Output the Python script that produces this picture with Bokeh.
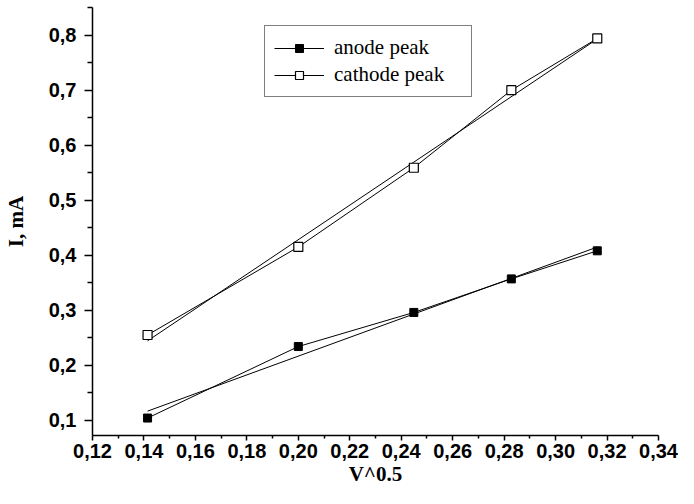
import numpy as np
from bokeh.plotting import figure
from bokeh.models import (Range1d, FixedTicker, CustomJSTickFormatter, Legend,
                          LegendItem)
from bokeh.embed import file_html
from bokeh.resources import INLINE

# ---- data ----
sqrt_v = [0.1414, 0.2000, 0.2449, 0.2828, 0.3162]
anode_peak = [0.104, 0.234, 0.296, 0.357, 0.408]
cathode_peak = [0.255, 0.415, 0.559, 0.700, 0.794]

x_ticks = [0.12, 0.14, 0.16, 0.18, 0.20, 0.22, 0.24, 0.26, 0.28, 0.30, 0.32, 0.34]
y_ticks = [0.1, 0.2, 0.3, 0.4, 0.5, 0.6, 0.7, 0.8]
x_minor = [0.13, 0.15, 0.17, 0.19, 0.21, 0.23, 0.25, 0.27, 0.29, 0.31, 0.33]
y_minor = [0.15, 0.25, 0.35, 0.45, 0.55, 0.65, 0.75, 0.85]

x_title = "V^0.5"
y_title = "I, mA"
series_names = ["anode peak", "cathode peak"]

# linear fits of the measured points
fit_x = [min(sqrt_v), max(sqrt_v)]
a_fit = np.polyfit(sqrt_v, anode_peak, 1)
c_fit = np.polyfit(sqrt_v, cathode_peak, 1)
anode_fit = list(np.polyval(a_fit, fit_x))
cathode_fit = list(np.polyval(c_fit, fit_x))

p = figure(width=678, height=488, output_backend="svg", toolbar_location=None,
           x_range=Range1d(0.12, 0.34), y_range=Range1d(0.0723, 0.8503),
           min_border_left=86, min_border_right=20, min_border_top=7,
           min_border_bottom=40)
p.grid.visible = False
p.outline_line_color = None
p.background_fill_color = "white"
p.border_fill_color = "white"

# axes
p.xaxis.ticker = FixedTicker(ticks=x_ticks, minor_ticks=x_minor)
p.yaxis.ticker = FixedTicker(ticks=y_ticks, minor_ticks=y_minor)
p.xaxis.formatter = CustomJSTickFormatter(code="return tick.toFixed(2).replace('.', ',');")
p.yaxis.formatter = CustomJSTickFormatter(code="return tick.toFixed(1).replace('.', ',');")
for ax in (p.xaxis[0], p.yaxis[0]):
    ax.axis_line_color = "black"
    ax.axis_line_width = 1.5
    ax.major_tick_line_color = "black"
    ax.major_tick_line_width = 1.5
    ax.minor_tick_line_color = "black"
    ax.minor_tick_line_width = 1.5
    ax.major_tick_in = 0
    ax.minor_tick_in = 0
    ax.major_label_text_font = "Liberation Sans"
    ax.major_label_text_font_style = "bold"
    ax.major_label_text_font_size = "20px"
    ax.major_label_text_color = "black"
    ax.axis_label_text_font = "Liberation Serif"
    ax.axis_label_text_font_style = "bold"
    ax.axis_label_text_color = "black"
p.xaxis.major_tick_out = 5
p.xaxis.minor_tick_out = 3
p.xaxis.major_label_standoff = 3
p.yaxis.major_tick_out = 8
p.yaxis.minor_tick_out = 5
p.yaxis.major_label_standoff = 8

p.yaxis.axis_label = y_title
p.yaxis.axis_label_text_font_size = "21px"
p.yaxis.axis_label_standoff = 18

p.xaxis.axis_label = x_title
p.xaxis.axis_label_text_font_size = "21px"
p.xaxis.axis_label_standoff = 1

# fit lines
p.line(fit_x, anode_fit, line_color="black", line_width=1)
p.line(fit_x, cathode_fit, line_color="black", line_width=1)

# data lines + markers
la = p.line(sqrt_v, anode_peak, line_color="black", line_width=1)
sa = p.scatter(sqrt_v, anode_peak, marker="square", size=8, fill_color="black",
               line_color="black", line_width=1)
lc = p.line(sqrt_v, cathode_peak, line_color="black", line_width=1)
sc = p.scatter(sqrt_v, cathode_peak, marker="square", size=9, fill_color="white",
               line_color="black", line_width=1.2)

legend = Legend(items=[LegendItem(label=series_names[0], renderers=[la, sa]),
                       LegendItem(label=series_names[1], renderers=[lc, sc])],
                location=(172, 338))
legend.border_line_color = "black"
legend.border_line_width = 1.5
legend.background_fill_color = "white"
legend.background_fill_alpha = 1
legend.padding = 9
legend.spacing = 2
legend.margin = 0
legend.glyph_width = 50
legend.glyph_height = 20
legend.label_standoff = 10
legend.label_width = 128
legend.label_height = 20
legend.label_text_font = "Liberation Serif"
legend.label_text_font_size = "21px"
legend.label_text_color = "black"
p.add_layout(legend)

open("out.html", "w").write(file_html(p, INLINE))
